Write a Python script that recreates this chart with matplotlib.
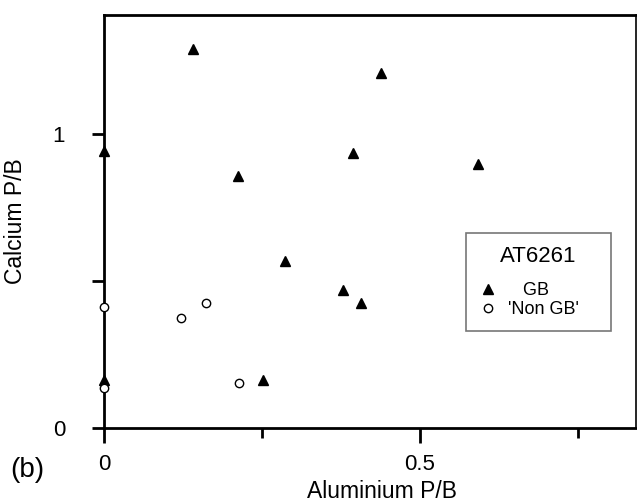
import matplotlib
matplotlib.use("Agg")
import matplotlib.pyplot as plt
from matplotlib.ticker import FixedLocator

plt.rcParams['font.family'] = ['Liberation Sans', 'DejaVu Sans']

gb_x = [0.141, 0.0, 0.212, 0.438, 0.394, 0.592, 0.286, 0.378, 0.407, 0.252, 0.0]
gb_y = [1.289, 0.942, 0.857, 1.207, 0.935, 0.898, 0.568, 0.469, 0.425, 0.163, 0.163]
ngb_x = [0.0, 0.122, 0.161, 0.214, 0.0]
ngb_y = [0.412, 0.374, 0.425, 0.153, 0.136]

x_major = [0, 0.5]
x_minor = [0.25, 0.75]
y_major = [0, 1]
y_minor = [0.5]

fig = plt.figure(figsize=(6.37, 5.03), dpi=100)
ax = fig.add_axes([104/637, 1-428/503, 532/637, 413/503])
ax.set_xlim(0, 0.842)
ax.set_ylim(0, 1.405)

ax.plot(gb_x, gb_y, ls='none', marker='^', ms=7.5, color='black', mec='black',
        clip_on=False, zorder=5, label='   GB')
ax.plot(ngb_x, ngb_y, ls='none', marker='o', ms=6, mfc='white', mec='black', mew=1,
        clip_on=False, zorder=6, label="'Non GB'")

for s in ['left', 'bottom', 'top']:
    ax.spines[s].set_linewidth(2.0)
ax.spines['right'].set_linewidth(1.2)

ax.xaxis.set_major_locator(FixedLocator(x_major))
ax.xaxis.set_minor_locator(FixedLocator(x_minor))
ax.yaxis.set_major_locator(FixedLocator(y_major))
ax.yaxis.set_minor_locator(FixedLocator(y_minor))
ax.set_xticklabels(['0', '0.5'])
ax.set_yticklabels(['0', '1'])
ax.tick_params(axis='x', which='major', direction='out', length=11, width=2, pad=8, labelsize=16)
ax.tick_params(axis='x', which='minor', direction='out', length=7, width=2)
ax.tick_params(axis='y', which='major', direction='out', length=9, width=2, pad=19, labelsize=16)
ax.tick_params(axis='y', which='minor', direction='out', length=9, width=2)

ax.set_xlabel('Aluminium P/B', fontsize=16.5)
ax.xaxis.set_label_coords((382-104)/532, -(491-428)/413, transform=ax.transAxes)
ax.xaxis.label.set_va('center')
ax.set_ylabel('Calcium P/B', fontsize=16.5)
ax.yaxis.set_label_coords(-(104-16)/532, 0.5, transform=ax.transAxes)
ax.yaxis.label.set_va('center')

lx0 = (466-104)/532
lx1 = (611-104)/532
ly1 = (428-233)/413
leg = ax.legend(loc='upper left', bbox_to_anchor=(lx0, ly1 - 0.3, lx1 - lx0, 0.3),
                mode='expand',
                title='AT6261', title_fontsize=16, fontsize=13, frameon=True,
                fancybox=False, edgecolor='#555555', handlelength=1.0,
                handletextpad=0.6, borderpad=0.7, labelspacing=0.12,
                borderaxespad=0)
leg.get_frame().set_linewidth(1.2)
leg._legend_box.sep = 11

fig.text(10/637, 1-470/503, '(b)', fontsize=20, va='center', ha='left')

fig.savefig('out.png', dpi=100)
